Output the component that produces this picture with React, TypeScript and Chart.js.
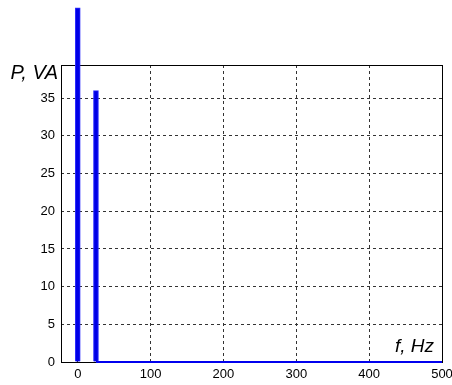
import React, { useEffect, useRef } from "react";
import { Chart, registerables } from "chart.js";

Chart.register(...registerables);

// Data
const harmonicFreqs = [0, 25];
const harmonicPower = [47, 36];
const baselineFreqs = [25, 500];
const baselineValues = [0, 0];
const xTicks = [0, 100, 200, 300, 400, 500];
const yTicks = [0, 5, 10, 15, 20, 25, 30, 35];
const yLabel = "P, VA";
const xLabel = "f, Hz";
const xMin = -23;
const xMax = 500;
const yMin = 0;
const yMax = 39.4;

const FONT = "'Liberation Sans', Arial, sans-serif";

const framePlugin = {
  id: "frame",
  beforeDatasetsDraw(chart: any) {
    const { ctx, chartArea: a } = chart;
    ctx.save();
    ctx.strokeStyle = "#000";
    ctx.lineWidth = 1;
    ctx.setLineDash([]);
    ctx.strokeRect(
      Math.round(a.left) + 0.5,
      Math.round(a.top) + 0.5,
      Math.round(a.right - a.left),
      Math.round(a.bottom - a.top)
    );
    ctx.restore();
  },
  afterDraw(chart: any) {
    const { ctx, chartArea: a } = chart;
    ctx.save();
    ctx.fillStyle = "#000";
    ctx.textBaseline = "alphabetic";
    ctx.textAlign = "right";
    ctx.font = `italic 20px ${FONT}`;
    ctx.fillText(yLabel, a.left - 3, a.top + 14);
    ctx.font = `italic 19px ${FONT}`;
    ctx.fillText(xLabel, a.right - 8, a.bottom - 10);
    ctx.restore();
  },
};

export default function App() {
  const ref = useRef<HTMLCanvasElement | null>(null);

  useEffect(() => {
    if (!ref.current) return;
    const chart = new Chart(ref.current, {
      type: "bar",
      data: {
        datasets: [
          {
            type: "bar",
            data: harmonicFreqs.map((f, i) => ({ x: f, y: harmonicPower[i] })),
            backgroundColor: "#0000e6",
            borderColor: "#3030ff",
            borderWidth: 1,
            barThickness: 5,
            clip: false as any,
          } as any,
          {
            type: "line",
            data: baselineFreqs.map((f, i) => ({ x: f, y: baselineValues[i] })),
            borderColor: "#0000ee",
            borderWidth: 2,
            pointRadius: 0,
            clip: false as any,
          } as any,
        ],
      },
      options: {
        responsive: false,
        animation: false,
        layout: { padding: { top: 65, right: 10, left: 0, bottom: 0 } },
        plugins: {
          legend: { display: false },
          tooltip: { enabled: false },
        },
        scales: {
          x: {
            type: "linear",
            min: xMin,
            max: xMax,
            offset: false,
            afterBuildTicks: (s: any) => {
              s.ticks = xTicks.map((v) => ({ value: v }));
            },
            afterFit: (s: any) => {
              s.height = 23;
              s.paddingRight = 0;
              s.paddingLeft = 0;
            },
            grid: { color: "#333", lineWidth: 1, drawTicks: false, offset: false },
            border: { display: false, dash: [3, 3] },
            ticks: {
              padding: 5,
              color: "#000",
              font: { family: FONT, size: 13 },
              maxRotation: 0,
              autoSkip: false,
            },
          },
          y: {
            type: "linear",
            min: yMin,
            max: yMax,
            afterBuildTicks: (s: any) => {
              s.ticks = yTicks.map((v) => ({ value: v }));
            },
            afterFit: (s: any) => {
              s.width = 61;
              s.paddingTop = 0;
              s.paddingBottom = 0;
            },
            grid: { color: "#333", lineWidth: 1, drawTicks: false },
            border: { display: false, dash: [3, 3] },
            ticks: {
              padding: 6,
              color: "#000",
              font: { family: FONT, size: 13 },
              autoSkip: false,
            },
          },
        },
      },
      plugins: [framePlugin],
    });
    return () => chart.destroy();
  }, []);

  return (
    <div style={{ position: "fixed", left: 0, top: 0, width: 452, height: 385, background: "#fff" }}>
      <canvas ref={ref} width={452} height={385} />
    </div>
  );
}
